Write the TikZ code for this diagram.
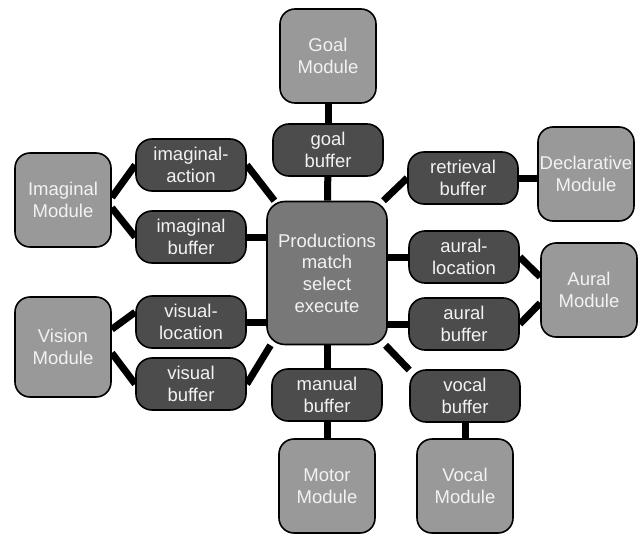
\documentclass[tikz,border=0pt]{standalone}
\usepackage{fontspec}
\setmainfont{Liberation Sans}
\usetikzlibrary{backgrounds}
\definecolor{modgray}{gray}{0.6}
\definecolor{bufgray}{gray}{0.3}
\definecolor{prodgray}{gray}{0.47}

\begin{document}
\begin{tikzpicture}[x=1pt,y=-1pt,
  box/.style={draw=black,line width=1.6pt,rounded corners=15pt,align=center,
    text=white!95!black,font=\fontsize{18.5}{21.7}\selectfont,inner sep=0pt},
  module/.style={box,fill=modgray,minimum width=96pt,minimum height=94pt},
  buffer/.style={box,fill=bufgray,minimum width=110pt,minimum height=52pt,rounded corners=16pt},
  prodbox/.style={box,fill=prodgray,minimum width=120pt,minimum height=143pt,rounded corners=18pt},
  link/.style={line width=7pt}]
 \useasboundingbox (0,0) rectangle (640,535);

 % central box
 \node [prodbox] (prod) at (327,273) {Productions\\match\\select\\execute};

 % buffers
 \node [buffer] (gb)   at (328,150) {goal\\buffer};
 \node [buffer] (rb)   at (463,178) {retrieval\\buffer};
 \node [buffer] (al)   at (464,257) {aural-\\location};
 \node [buffer] (ab)   at (464,324) {aural\\buffer};
 \node [buffer] (ia)   at (191,165) {imaginal-\\action};
 \node [buffer] (ib)   at (191,237) {imaginal\\buffer};
 \node [buffer] (vl)   at (191,322) {visual-\\location};
 \node [buffer] (visb) at (191,384) {visual\\buffer};
 \node [buffer] (mb)   at (327,395) {manual\\buffer};
 \node [buffer] (vocb) at (465,396) {vocal\\buffer};

 % modules
 \node [module] (gm)   at (328,56)  {Goal\\Module};
 \node [module] (dm)   at (586,174) {Declarative\\Module};
 \node [module] (aum)  at (589,290) {Aural\\Module};
 \node [module] (im)   at (63,200)  {Imaginal\\Module};
 \node [module,minimum height=100pt] (vism) at (63,347) {Vision\\Module};
 \node [module] (motor) at (327,486) {Motor\\Module};
 \node [module] (vocm) at (465,486) {Vocal\\Module};

 \begin{scope}[on background layer]
  \foreach \a/\b in {gm/gb, gb/prod, prod/mb, mb/motor, vocb/vocm}
    \draw [link] (\a) -- (\b);
  \foreach \a/\b in {im.3/ia.west, im.-9/ib.west, vism.20/vl.170, vism.-7/visb.west,
                     ia.east/prod.126, visb.east/prod.232, rb.west/prod.52, vocb.155/prod.-51,
                     al.east/aum.165, ab.east/aum.195}
    \draw [link] (\a) -- (\b);
  \foreach \a in {ib, vl, al, ab}
    \draw [link] (\a) -- (\a -| prod);
  \draw [link] (rb) -- (rb -| dm);
 \end{scope}
\end{tikzpicture}
\end{document}
